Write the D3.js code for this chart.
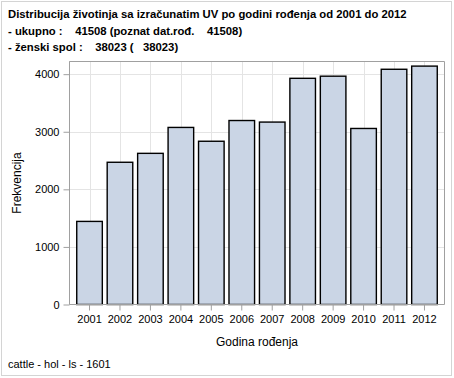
<!DOCTYPE html>
<html>
<head>
<meta charset="utf-8">
<script src="https://cdn.jsdelivr.net/npm/d3@7"></script>
<style>
  body { margin: 0; background: #fff; }
  svg { display: block; font-family: "Liberation Sans", Arial, sans-serif; }
</style>
</head>
<body>
<svg id="chart" width="454" height="378"></svg>
<script>
// data
var years = ["2001", "2002", "2003", "2004", "2005", "2006", "2007", "2008", "2009", "2010", "2011", "2012"];
var counts = [1443, 2470, 2625, 3075, 2835, 3195, 3168, 3928, 3965, 3057, 4085, 4140];
var y_ticks = [0, 1000, 2000, 3000, 4000];
var title_lines = [
    "Distribucija životinja sa izračunatim UV po godini rođenja od 2001 do 2012",
    "- ukupno :    41508 (poznat dat.rođ.    41508)",
    "- ženski spol :    38023 (   38023)"
];
var footnote = "cattle - hol - ls - 1601";

var svg = d3.select("#chart");
var plot_left = 69.5, plot_right = 444.5, plot_top = 61.5, plot_bottom = 304.5;

// outer border
svg.append("rect")
    .attr("x", 1.5).attr("y", 1.5)
    .attr("width", 450).attr("height", 374)
    .attr("fill", "none")
    .attr("stroke", "#d4d4d4");

var x = d3.scaleBand()
    .domain(years)
    .range([plot_left + 4.8, plot_right - 4.8])
    .paddingInner(0.16)
    .paddingOuter(0.08);

var y = d3.scaleLinear()
    .domain([0, 4220])
    .range([plot_bottom, plot_top]);

// grid
var grid = svg.append("g");
grid.selectAll(".hgrid")
    .data(y_ticks.slice(1))
    .enter().append("line")
    .attr("x1", plot_left).attr("x2", plot_right)
    .attr("y1", function(d) { return Math.round(y(d)) + 0.5; })
    .attr("y2", function(d) { return Math.round(y(d)) + 0.5; })
    .attr("stroke", "#e4e4e4");
grid.selectAll(".vgrid")
    .data(years)
    .enter().append("line")
    .attr("x1", function(d) { return Math.round(x(d) + x.bandwidth() / 2) + 0.5; })
    .attr("x2", function(d) { return Math.round(x(d) + x.bandwidth() / 2) + 0.5; })
    .attr("y1", plot_top).attr("y2", plot_bottom)
    .attr("stroke", "#e4e4e4");

// bars
svg.selectAll(".bar")
    .data(counts)
    .enter().append("rect")
    .attr("class", "bar")
    .attr("x", function(d, i) { return x(years[i]); })
    .attr("y", function(d) { return y(d); })
    .attr("width", x.bandwidth())
    .attr("height", function(d) { return plot_bottom - y(d); })
    .attr("fill", "#cad5e5")
    .attr("stroke", "#000")
    .attr("stroke-width", 1.4);

// frame
svg.append("path")
    .attr("d", "M" + plot_left + "," + plot_bottom + "V" + plot_top + "H" + plot_right + "V" + plot_bottom)
    .attr("fill", "none")
    .attr("stroke", "#a0a0a0");

// axes
var yAxis = svg.append("g")
    .attr("transform", "translate(" + plot_left + ",0)")
    .call(d3.axisLeft(y).tickValues(y_ticks).tickFormat(d3.format("d"))
        .tickSize(6).tickPadding(4).tickSizeOuter(0));
var xAxis = svg.append("g")
    .attr("transform", "translate(0," + plot_bottom + ")")
    .call(d3.axisBottom(x).tickSize(6).tickPadding(5).tickSizeOuter(0));

[yAxis, xAxis].forEach(function(ax) {
    ax.select(".domain").attr("stroke", "#a0a0a0");
    ax.selectAll(".tick line").attr("stroke", "#a0a0a0");
    ax.selectAll(".tick text")
        .attr("fill", "#000")
        .style("font-size", "11px")
        .style("font-family", "\"Liberation Sans\", Arial, sans-serif");
});
yAxis.select(".domain").attr("d", "M0," + plot_top + "V" + plot_bottom);
xAxis.select(".domain").attr("d", "M" + plot_left + ",0H" + plot_right);

// axis titles
svg.append("text")
    .attr("x", (plot_left + plot_right) / 2)
    .attr("y", 346)
    .attr("text-anchor", "middle")
    .style("font-size", "12px")
    .text("Godina rođenja");
svg.append("text")
    .attr("transform", "translate(21," + (plot_top + plot_bottom) / 2 + ") rotate(-90)")
    .attr("text-anchor", "middle")
    .style("font-size", "12px")
    .text("Frekvencija");

// title
svg.selectAll(".title")
    .data(title_lines)
    .enter().append("text")
    .attr("x", 8)
    .attr("y", function(d, i) { return 18 + i * 16.5; })
    .attr("xml:space", "preserve")
    .style("font-size", "11.3px")
    .style("font-weight", "bold")
    .text(function(d) { return d; });

svg.append("text")
    .attr("x", 8)
    .attr("y", 368)
    .style("font-size", "11px")
    .text(footnote);
</script>
</body>
</html>
